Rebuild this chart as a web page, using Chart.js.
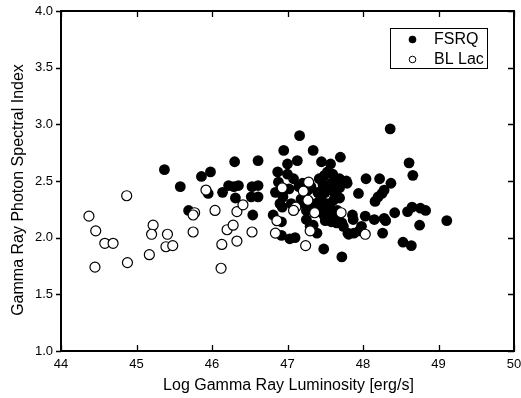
<!DOCTYPE html>
<html>
<head>
<meta charset="utf-8">
<script src="https://cdn.jsdelivr.net/npm/chart.js@4/dist/chart.umd.min.js"></script>
<style>
html,body{margin:0;padding:0;background:#fff;}
#c{display:block;}
</style>
</head>
<body>
<canvas id="c" width="521" height="398"></canvas>
<script>
// Tick labels / axis ranges
const xTicks = [44, 45, 46, 47, 48, 49, 50];
const yTicks = [1.0, 1.5, 2.0, 2.5, 3.0, 3.5, 4.0];
const seriesNames = ["FSRQ", "BL Lac"];
const xTitle = "Log Gamma Ray Luminosity [erg/s]";
const yTitle = "Gamma Ray Photon Spectral Index";

// FSRQ: log gamma-ray luminosity and photon index
const fsrqX = [45.37,45.58,45.69,45.86,45.98,45.95,46.14,46.22,46.29,46.35,46.31,46.30,46.53,46.52,46.54,46.61,46.61,46.61,
  46.81,46.84,46.87,46.88,46.90,46.93,46.94,46.96,46.92,46.92,46.95,47.00,47.00,47.02,47.03,47.10,47.13,47.16,47.15,47.18,
  47.27,47.31,47.34,47.32,47.37,47.40,47.43,47.46,47.34,47.30,47.39,47.42,47.45,47.48,47.56,47.53,47.57,47.60,47.49,47.57,
  47.54,47.58,47.61,47.63,47.65,47.66,47.69,47.69,47.69,47.70,47.72,47.72,47.74,47.78,47.79,47.80,47.81,47.86,47.87,47.88,
  47.94,47.95,47.98,48.03,48.04,48.15,48.16,48.20,48.22,48.25,48.28,48.26,48.28,48.30,48.36,48.37,48.42,48.53,48.59,48.61,
  48.64,48.65,48.66,48.75,48.76,48.83,49.11,
  47.22,47.25,47.45,47.48,47.50,47.52,47.47,47.60,47.63,47.66,47.50,47.58,47.25,47.20,47.05,47.08];
const fsrqY = [2.60,2.45,2.24,2.54,2.58,2.39,2.40,2.46,2.45,2.46,2.35,2.67,2.45,2.36,2.20,2.68,2.46,2.36,
  2.20,2.40,2.58,2.49,2.30,2.27,2.36,2.42,2.14,2.02,2.77,2.65,2.56,2.43,1.99,2.00,2.68,2.90,2.45,2.34,
  2.42,2.45,2.77,2.26,2.30,2.40,2.33,2.38,2.11,2.10,2.04,2.52,2.67,1.90,2.44,2.58,2.65,2.56,2.55,2.26,
  2.18,2.14,2.33,2.39,2.13,2.49,2.44,2.52,2.35,2.71,2.13,1.83,2.10,2.50,2.48,2.04,2.03,2.20,2.16,2.04,
  2.39,2.06,2.10,2.19,2.52,2.16,2.32,2.36,2.52,2.39,2.42,2.04,2.17,2.15,2.96,2.48,2.22,1.96,2.23,2.66,
  1.93,2.27,2.55,2.11,2.26,2.24,2.15,
  2.30,2.24,2.25,2.20,2.15,2.30,2.47,2.22,2.18,2.24,2.40,2.48,2.16,2.48,2.30,2.52];

// BL Lac
const bllacX = [44.37,44.46,44.45,44.58,44.69,44.87,44.88,45.17,45.22,45.20,45.41,45.39,45.48,
  45.75,45.77,45.75,45.92,46.04,46.13,46.12,46.20,46.28,46.33,46.33,46.41,46.53,
  47.28,47.21,46.93,47.27,47.11,47.08,47.36,46.86,46.84,47.30,47.24,47.71,48.03];
const bllacY = [2.19,2.06,1.74,1.95,1.95,2.37,1.78,1.85,2.11,2.03,2.03,1.92,1.93,
  2.05,2.22,2.20,2.42,2.24,1.94,1.73,2.07,2.11,1.97,2.23,2.29,2.05,
  2.49,2.41,2.44,2.33,2.27,2.24,2.22,2.15,2.04,2.06,1.93,2.22,2.03];

const toPts = (xs, ys) => xs.map((x, i) => ({x: x, y: ys[i]}));

const FONT = "'Liberation Sans', Arial, Helvetica, sans-serif";

const framePlugin = {
  id: 'frame',
  afterDraw(chart) {
    const ctx = chart.ctx;
    const a = chart.chartArea;
    const xs = chart.scales.x, ys = chart.scales.y;
    ctx.save();
    ctx.strokeStyle = '#000';
    ctx.lineWidth = 2;
    ctx.strokeRect(a.left, a.top, a.right - a.left, a.bottom - a.top);
    ctx.lineWidth = 1.3;
    ctx.beginPath();
    const tl = 6;
    xTicks.forEach(v => {
      const px = Math.round(xs.getPixelForValue(v)) + 0.5;
      ctx.moveTo(px, a.bottom); ctx.lineTo(px, a.bottom - tl);
      ctx.moveTo(px, a.top); ctx.lineTo(px, a.top + tl);
    });
    yTicks.forEach(v => {
      const py = Math.round(ys.getPixelForValue(v)) + 0.5;
      ctx.moveTo(a.right, py); ctx.lineTo(a.right - tl, py);
      ctx.moveTo(a.left, py); ctx.lineTo(a.left - 5, py);
    });
    ctx.stroke();

    // axis titles
    ctx.fillStyle = '#000';
    ctx.font = '16px ' + FONT;
    ctx.textAlign = 'center';
    ctx.textBaseline = 'middle';
    ctx.fillText(xTitle, (a.left + a.right) / 2 + 1, 386);
    ctx.save();
    ctx.translate(19, 190);
    ctx.rotate(-Math.PI / 2);
    ctx.fillText(yTitle, 0, 0);
    ctx.restore();

    // legend
    const lx = 390, ly = 28, lw = 97, lh = 40;
    ctx.lineWidth = 1;
    ctx.strokeRect(lx + 0.5, ly + 0.5, lw, lh);
    ctx.font = '16px ' + FONT;
    ctx.textAlign = 'left';
    ctx.textBaseline = 'middle';
    ctx.beginPath(); ctx.arc(412.5, 39.5, 3.8, 0, Math.PI * 2); ctx.fillStyle = '#000'; ctx.fill();
    ctx.fillText(seriesNames[0], 434, 40);
    ctx.beginPath(); ctx.arc(412.5, 59.5, 3.3, 0, Math.PI * 2); ctx.fillStyle = '#fff'; ctx.fill();
    ctx.lineWidth = 1; ctx.strokeStyle = '#000'; ctx.stroke();
    ctx.fillStyle = '#000';
    ctx.fillText(seriesNames[1], 434, 60);
    ctx.restore();
  }
};

new Chart(document.getElementById('c'), {
  type: 'scatter',
  data: {
    datasets: [
      {label: seriesNames[0], data: toPts(fsrqX, fsrqY), order: 1,
       pointRadius: 5.4, pointBackgroundColor: '#000', pointBorderColor: '#000', pointBorderWidth: 0},
      {label: seriesNames[1], data: toPts(bllacX, bllacY), order: 0,
       pointRadius: 5, pointBackgroundColor: '#fff', pointBorderColor: '#000', pointBorderWidth: 1.2}
    ]
  },
  options: {
    responsive: false,
    devicePixelRatio: 1,
    animation: false,
    events: [],
    layout: {padding: {top: 11, right: 7, left: 0, bottom: 0}},
    plugins: {legend: {display: false}, tooltip: {enabled: false}},
    scales: {
      x: {
        type: 'linear', min: 44, max: 50,
        afterBuildTicks: s => { s.ticks = xTicks.map(v => ({value: v})); },
        afterFit: s => { s.height = 47; s.paddingLeft = 0; s.paddingRight = 0; },
        grid: {display: false, drawTicks: false},
        border: {display: false},
        ticks: {color: '#000', font: {size: 13, family: FONT}, padding: 6,
                callback: v => String(v), maxRotation: 0},
        title: {display: false}
      },
      y: {
        type: 'linear', min: 1, max: 4,
        afterBuildTicks: s => { s.ticks = yTicks.map(v => ({value: v})); },
        afterFit: s => { s.width = 61; },
        grid: {display: false, drawTicks: true, tickLength: 5},
        border: {display: false},
        ticks: {color: '#000', font: {size: 13, family: FONT}, padding: 3,
                callback: v => v.toFixed(1)},
        title: {display: false}
      }
    }
  },
  plugins: [framePlugin]
});
</script>
</body>
</html>
